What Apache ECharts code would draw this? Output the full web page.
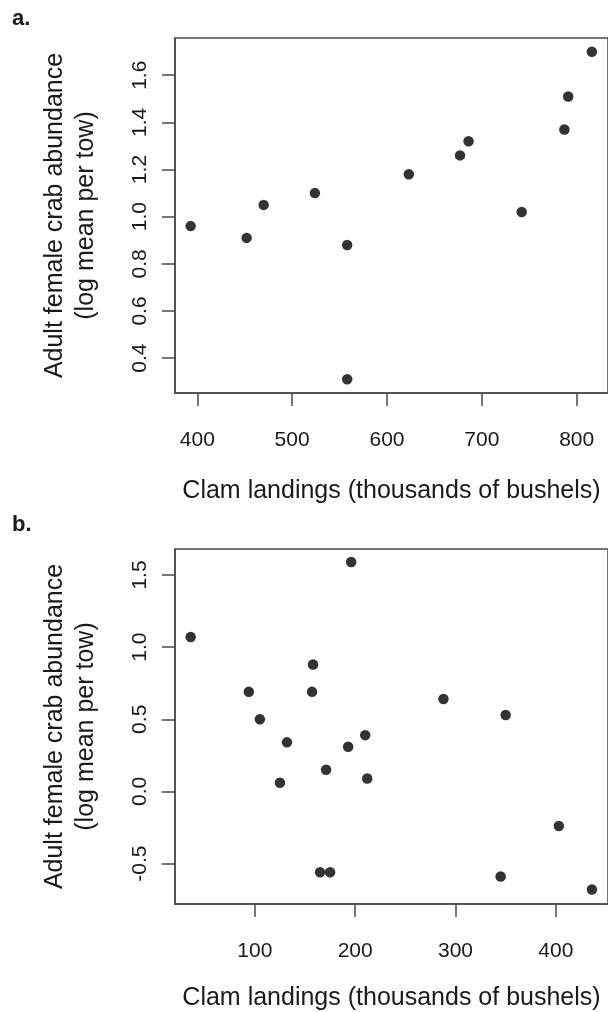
<!DOCTYPE html>
<html>
<head>
<meta charset="utf-8">
<script src="https://cdn.jsdelivr.net/npm/echarts@6/dist/echarts.min.js"></script>
<style>
html,body{margin:0;padding:0;background:#fff;}
#chart{width:608px;height:1012px;}
</style>
</head>
<body>
<div id="chart"></div>
<script>
// Panel a data
const clamA = [393, 452, 470, 524, 558, 558, 623, 677, 686, 742, 787, 791, 816];
const crabA = [0.96, 0.91, 1.05, 1.10, 0.88, 0.31, 1.18, 1.26, 1.32, 1.02, 1.37, 1.51, 1.70];
// Panel b data
const clamB = [36, 94, 105, 125, 132, 157, 158, 165, 171, 175, 193, 196, 210, 212, 288, 345, 350, 403, 436];
const crabB = [1.07, 0.69, 0.50, 0.06, 0.34, 0.69, 0.88, -0.56, 0.15, -0.56, 0.31, 1.59, 0.39, 0.09, 0.64, -0.59, 0.53, -0.24, -0.68];
// Tick labels
const xTicksA = [400, 500, 600, 700, 800];
const yTicksA = [0.4, 0.6, 0.8, 1.0, 1.2, 1.4, 1.6];
const xTicksB = [100, 200, 300, 400];
const yTicksB = [-0.5, 0.0, 0.5, 1.0, 1.5];
const xTitle = 'Clam landings (thousands of bushels)';
const yTitle = 'Adult female crab abundance\n(log mean per tow)';
const panelLabels = ['a.', 'b.'];

const FONT = 'Liberation Sans, Arial, sans-serif';
const TXT = '#1a1a1a';
const AX = '#4a4a4a';

function xAxis(gi, min, max, ticks, gap) {
  return {
    type: 'value', gridIndex: gi, min: min, max: max,
    splitLine: {show: false},
    axisLine: {show: true, onZero: false, lineStyle: {color: AX, width: 1.5}},
    axisTick: {show: true, length: 13, inside: false, customValues: ticks, lineStyle: {color: AX, width: 1.5}},
    axisLabel: {show: true, customValues: ticks, margin: 37, fontSize: 21, color: TXT, fontFamily: FONT,
      formatter: v => String(v)},
    name: xTitle, nameLocation: 'middle', nameGap: gap,
    nameTextStyle: {fontSize: 25, color: TXT, fontFamily: FONT}
  };
}
function yAxis(gi, min, max, ticks, digits) {
  return {
    type: 'value', gridIndex: gi, min: min, max: max,
    splitLine: {show: false},
    axisLine: {show: true, onZero: false, lineStyle: {color: AX, width: 1.5}},
    axisTick: {show: true, length: 13, inside: false, customValues: ticks, lineStyle: {color: AX, width: 1.5}},
    axisLabel: {show: true, customValues: ticks, rotate: 90, margin: 24, fontSize: 21, color: TXT, fontFamily: FONT,
      formatter: v => Number(v).toFixed(digits)},
    name: yTitle, nameLocation: 'middle', nameRotate: 90, nameGap: 73,
    nameTextStyle: {fontSize: 25, color: TXT, fontFamily: FONT, lineHeight: 31, align: 'center'}
  };
}

const chart = echarts.init(document.getElementById('chart'), null, {renderer: 'canvas'});
chart.setOption({
  backgroundColor: '#ffffff',
  animation: false,
  grid: [
    {left: 175, right: -2, top: 38, height: 355, show: true, borderColor: AX, borderWidth: 1.5, backgroundColor: 'transparent'},
    {left: 175, right: -2, top: 549, height: 360, show: true, borderColor: AX, borderWidth: 1.5, backgroundColor: 'transparent'}
  ],
  xAxis: [xAxis(0, 376.5, 833, xTicksA, 86), xAxis(1, 20.4, 452, xTicksB, 82)],
  yAxis: [yAxis(0, 0.252, 1.758, yTicksA, 1), yAxis(1, -0.78, 1.68, yTicksB, 1)],
  graphic: [
    {type: 'text', left: 12, top: 8, style: {text: panelLabels[0], font: 'bold 22px ' + FONT, fill: TXT}},
    {type: 'text', left: 12, top: 514, style: {text: panelLabels[1], font: 'bold 22px ' + FONT, fill: TXT}}
  ],
  series: [
    {type: 'scatter', xAxisIndex: 0, yAxisIndex: 0, symbol: 'circle', symbolSize: 10.5,
      itemStyle: {color: '#000'}, data: clamA.map((x, i) => [x, crabA[i]])},
    {type: 'scatter', xAxisIndex: 1, yAxisIndex: 1, symbol: 'circle', symbolSize: 10.5,
      itemStyle: {color: '#000'}, data: clamB.map((x, i) => [x, crabB[i]])}
  ]
});
</script>
</body>
</html>
